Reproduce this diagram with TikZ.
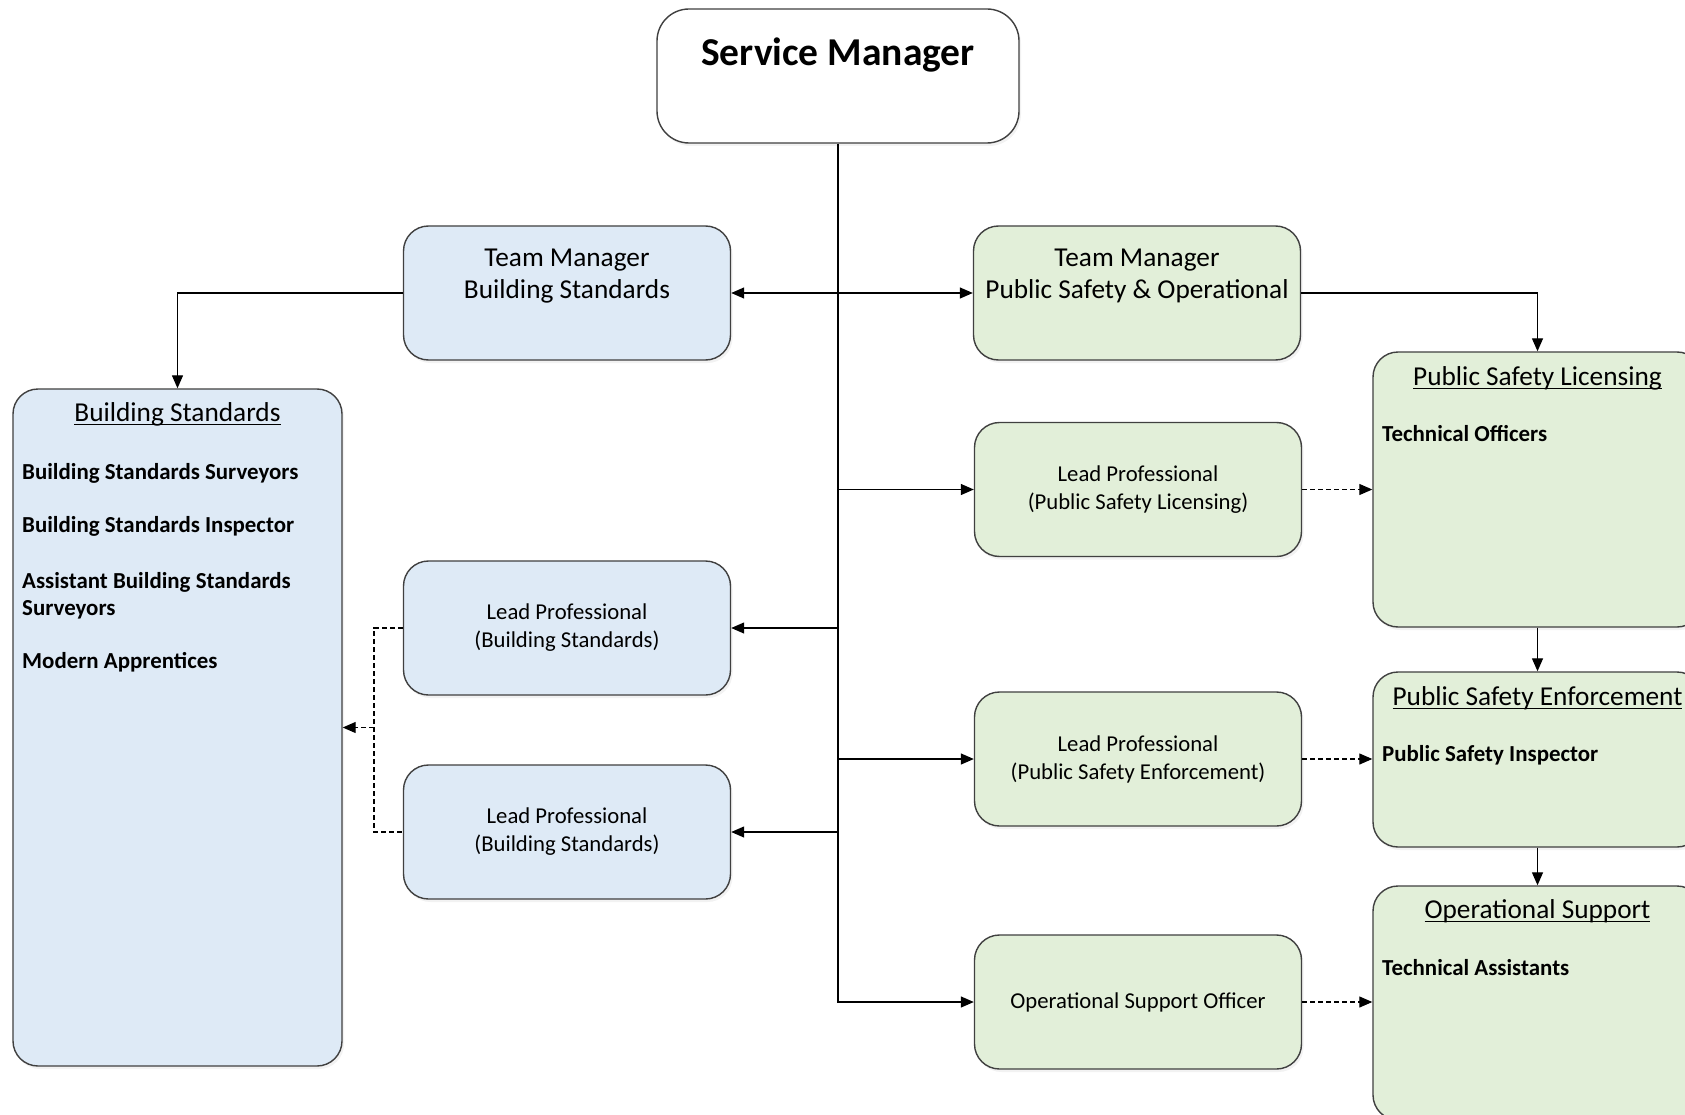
\documentclass[tikz,border=0pt]{standalone}
\usepackage{fontspec}
\setmainfont{Carlito}
\usetikzlibrary{arrows.meta,shadows}
\definecolor{bsblue}{HTML}{DEEAF6}
\definecolor{psgreen}{HTML}{E2EFD9}
\definecolor{edgegray}{HTML}{404040}
\newcommand\myul[1]{\setbox0\hbox{#1}\leavevmode\rlap{\vrule height -2.6pt depth 4.2pt width \wd0}\box0}
\tikzset{
  box/.style={draw=edgegray, line width=1.4pt, rounded corners=25pt, inner sep=0pt,
     drop shadow={opacity=0.10, shadow xshift=2pt, shadow yshift=-3pt}},
  bluebox/.style={box, fill=bsblue},
  greenbox/.style={box, fill=psgreen},
  tmsize/.style={minimum width=327pt, minimum height=134pt},
  bigtext/.style={font=\fontsize{27.3}{32}\selectfont, align=center, inner sep=0pt},
  midtext/.style={font=\fontsize{22.7}{28}\selectfont, align=center, inner sep=0pt},
  itemtext/.style={font=\fontsize{22.9}{28}\selectfont\bfseries, align=left, inner sep=0pt, anchor=base west},
  titletext/.style={font=\fontsize{27.3}{32}\selectfont, inner sep=0pt, anchor=base},
  plainline/.style={line width=1.3pt},
  conn/.style={plainline, -{Triangle[length=13pt,width=11pt]}},
  dline/.style={line width=1.1pt, dash pattern=on 5pt off 3pt},
  dconn/.style={dline, -{Triangle[length=13pt,width=11pt]}},
}
\begin{document}
\begin{tikzpicture}[x=1pt,y=-1pt]
\clip (0,0) rectangle (1685,1115);
\fill[white] (0,0) rectangle (1685,1115);

% Service Manager
\node[box, fill=white, rounded corners=32pt, minimum width=362pt, minimum height=134pt] (sm) at (838,76) {};
\node[font=\fontsize{39.5}{42}\selectfont\bfseries, inner sep=0pt, anchor=base] (smt) at (838,66) {Service Manager};

% Team managers
\node[bluebox, tmsize] (tmbs) at (567,293) {};
\node[bigtext] (tmbst) at (567,276) {Team Manager\\Building Standards};
\node[greenbox, tmsize] (tmps) at (1137,293) {};
\node[bigtext] (tmpst) at (1137,276) {Team Manager\\Public Safety \& Operational};

% Lead professionals (green)
\node[greenbox, tmsize, midtext] (lppsl) at (1138,489.5) {Lead Professional\\(Public Safety Licensing)};
\node[greenbox, tmsize, midtext] (lppse) at (1138,759) {Lead Professional\\(Public Safety Enforcement)};
\node[greenbox, tmsize, midtext] (oso) at (1138,1002) {Operational Support Officer};

% Lead professionals (blue)
\node[bluebox, tmsize, midtext] (lpbsa) at (567,628) {Lead Professional\\(Building Standards)};
\node[bluebox, tmsize, midtext] (lpbsb) at (567,832) {Lead Professional\\(Building Standards)};

% Building Standards big box
\node[bluebox, minimum width=329pt, minimum height=677pt] (bs) at (177.5,727.5) {};
\node[titletext] (bst) at (177.5,421) {\myul{Building Standards}};
\node[itemtext] (bs1) at (22,479) {Building Standards Surveyors};
\node[itemtext] (bs2) at (22,532) {Building Standards Inspector};
\node[itemtext] (bs3) at (22,588) {Assistant Building Standards};
\node[itemtext] (bs3b) at (22,615) {Surveyors};
\node[itemtext] (bs4) at (22,668) {Modern Apprentices};

% Right column boxes
\node[greenbox, minimum width=329pt, minimum height=275pt] (psl) at (1537.5,489.5) {};
\node[titletext] (pslt) at (1537.5,385) {\myul{Public Safety Licensing}};
\node[itemtext] (psl1) at (1382,441) {Technical Officers};

\node[greenbox, minimum width=329pt, minimum height=175pt] (pse) at (1537.5,759.5) {};
\node[titletext] (pset) at (1537.5,705) {\myul{Public Safety Enforcement}};
\node[itemtext] (pse1) at (1382,761) {Public Safety Inspector};

\node[greenbox, minimum width=329pt, minimum height=234pt] (os) at (1537.5,1003) {};
\node[titletext] (ost) at (1537.5,918) {\myul{Operational Support}};
\node[itemtext] (os1) at (1382,975) {Technical Assistants};

% Trunk
\draw[conn] (sm.south) -- (sm.south |- oso.west) -- (oso.west);
\draw[conn] (sm.south |- tmbs.east) -- (tmbs.east);
\draw[conn] (sm.south |- tmps.west) -- (tmps.west);
\draw[conn] (sm.south |- lppsl.west) -- (lppsl.west);
\draw[conn] (sm.south |- lpbsa.east) -- (lpbsa.east);
\draw[conn] (sm.south |- lppse.west) -- (lppse.west);
\draw[conn] (sm.south |- lpbsb.east) -- (lpbsb.east);

% Team manager to groups
\draw[conn] (tmbs.west) -| (bs.north);
\draw[conn] (tmps.east) -| (psl.north);

% Dashed to right groups
\draw[dconn] (lppsl.east) -- (lppsl.east -| psl.west);
\draw[dconn] (lppse.east) -- (lppse.east -| pse.west);
\draw[dconn] (oso.east) -- (oso.east -| os.west);

% Right group chain
\draw[conn] (psl.south) -- (pse.north);
\draw[conn] (pse.south) -- (os.north);

% Dashed merge to Building Standards
\coordinate (dj) at (374,0 |- bs.east);
\draw[dline] (lpbsa.west) -| (dj) |- (lpbsb.west);
\draw[dconn] (dj) -- (bs.east);
\end{tikzpicture}
\end{document}
